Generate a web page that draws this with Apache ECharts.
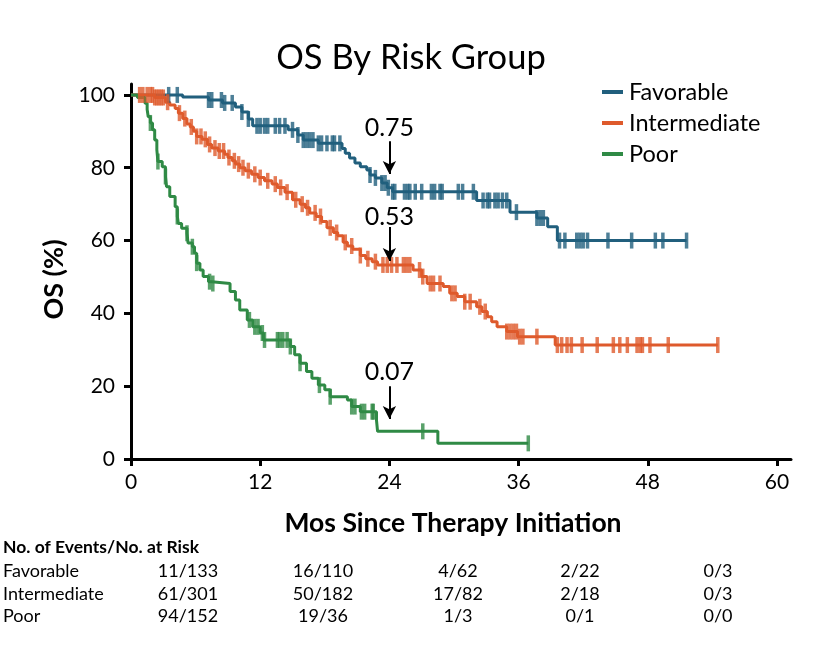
<!DOCTYPE html>
<html><head><meta charset="utf-8">
<script src="https://cdn.jsdelivr.net/npm/echarts@6/dist/echarts.min.js"></script>
<style>html,body{margin:0;padding:0;background:#fff}#c{width:822px;height:652px}</style>
</head><body><div id="c"></div>
<script>
// ---- Data ----
const xTicks = [0, 12, 24, 36, 48, 60];
const yTicks = [0, 20, 40, 60, 80, 100];
const groupNames = ['Favorable', 'Intermediate', 'Poor'];

// Kaplan-Meier step points (time in months, survival %)
const favT = [0, 4.8, 7.2, 8.5, 9.7, 10.3, 10.9, 11.3, 14.6, 15.5, 16.0, 17.4, 19.6, 19.9, 20.3, 20.8, 21.3, 21.9, 22.2, 22.7, 23.3, 23.8, 24.3, 32.1, 35.2, 37.7, 38.7, 39.6, 51.6];
const favV = [100, 99.4, 98.6, 97.8, 96.7, 95.3, 93.4, 91.5, 90.4, 89.0, 87.6, 86.7, 85.3, 84.0, 82.7, 81.3, 80.3, 79.4, 78.0, 77.2, 75.8, 74.5, 73.4, 71.0, 67.8, 66.2, 63.8, 60.0, 60.0];
const intT = [0, 2.2, 3.2, 3.6, 4.1, 4.4, 4.8, 5.2, 5.5, 5.8, 6.1, 6.6, 7.1, 7.5, 8.1, 8.7, 9.0, 9.4, 9.7, 10.1, 10.6, 11.2, 11.8, 12.4, 13.1, 13.6, 14.3, 15.0, 15.7, 16.2, 16.6, 17.2, 17.7, 18.2, 18.8, 19.2, 19.7, 20.1, 20.6, 21.3, 21.8, 22.4, 22.9, 26.2, 27.0, 27.5, 29.0, 29.6, 30.3, 31.0, 32.1, 32.6, 33.1, 33.5, 34.0, 34.9, 35.9, 39.4, 54.5];
const intV = [100, 99.3, 98, 97.2, 96.3, 95, 93.5, 92, 91.2, 90, 88.6, 87.8, 86.4, 85.4, 84.6, 83.7, 82.8, 81.9, 81, 80, 79.2, 78.2, 77.3, 76.4, 75.5, 74.6, 73.3, 71.2, 70, 69, 67.6, 66.6, 65.2, 63.5, 62.2, 61.3, 59.5, 58.5, 57.6, 55.9, 55, 54.2, 53.3, 51.9, 50.1, 48.2, 47.4, 45.5, 44.6, 43.2, 41.8, 40.5, 39.1, 37.7, 36.3, 35, 33.6, 31.3, 31.3];
const poorT = [0, 0.6, 1.3, 1.5, 1.6, 1.8, 2.0, 2.2, 2.4, 2.5, 2.9, 3.2, 3.3, 3.6, 4.1, 4.3, 4.4, 4.7, 5.2, 5.3, 5.7, 5.9, 6.1, 6.4, 6.7, 7.2, 7.5, 9.2, 9.7, 10.1, 10.8, 11.3, 12.0, 12.3, 14.8, 15.2, 15.7, 16.3, 16.8, 17.4, 18.0, 18.5, 20.1, 20.5, 21.3, 22.8, 22.9, 28.5, 36.9];
const poorV = [100, 99.3, 97.7, 96, 94, 92.3, 90.4, 87.6, 84.9, 81.7, 80.3, 77.6, 74.8, 72.1, 69.3, 66.6, 64.7, 63.4, 62, 59.3, 58.3, 56.5, 53.8, 51.9, 50.1, 48.7, 48.2, 46, 43.7, 40.9, 38.2, 36.3, 34.6, 32.7, 30.9, 28.6, 26.3, 24, 22.2, 20.3, 19, 17.1, 16.2, 14.4, 13, 10.7, 7.6, 4.3, 4.3];

// Censoring times (months)
const favCens = [3.5, 4.3, 7.2, 7.5, 8.4, 8.7, 9.4, 10.3, 10.9, 11.7, 12.0, 12.4, 12.7, 13.4, 13.8, 14.3, 15.0, 15.5, 16.0, 16.3, 16.6, 16.9, 17.4, 17.7, 18.2, 18.7, 18.9, 19.4, 22.2, 22.7, 23.3, 23.6, 23.9, 24.3, 24.5, 25.4, 25.7, 25.9, 26.4, 27.0, 27.9, 28.2, 28.7, 28.9, 30.4, 30.8, 31.8, 32.7, 33.1, 33.3, 33.8, 34.1, 34.5, 34.9, 35.8, 37.7, 38.0, 38.3, 39.8, 40.3, 41.4, 41.7, 42.0, 42.4, 44.3, 46.5, 48.7, 49.4, 51.6];
const intCens = [0.8, 1.1, 1.5, 1.8, 2.0, 2.2, 2.4, 2.6, 2.8, 3.0, 3.4, 4.5, 5.0, 5.6, 6.1, 6.5, 6.9, 7.3, 7.8, 8.2, 8.6, 9.1, 9.6, 10.0, 10.4, 10.9, 11.5, 12.0, 12.7, 13.4, 13.9, 14.5, 15.3, 15.9, 16.4, 17.1, 17.6, 18.5, 19.1, 19.9, 20.5, 21.3, 22.0, 22.7, 23.4, 23.8, 24.2, 24.7, 25.3, 25.6, 25.9, 26.8, 27.1, 27.8, 28.1, 28.7, 29.8, 30.1, 31.0, 31.5, 32.4, 32.9, 34.9, 35.2, 35.5, 35.8, 36.1, 36.4, 37.7, 39.6, 40.0, 40.5, 40.9, 41.9, 43.3, 44.8, 45.4, 46.1, 47.0, 47.3, 47.5, 48.2, 49.9, 54.5];
const poorCens = [1.8, 2.5, 3.2, 4.3, 5.2, 5.7, 6.1, 7.3, 7.6, 11.0, 11.5, 11.8, 12.2, 12.4, 13.6, 13.8, 14.1, 14.5, 14.8, 15.7, 17.5, 18.5, 20.5, 20.8, 21.4, 21.7, 22.4, 22.5, 27.1, 36.9];

// Annotations at 24 months
const annTime = [24, 24, 24];
const annText = ['0.75', '0.53', '0.07'];
const annLabelY = [90.9, 66.5, 23.9];
const annArrowFrom = [87.3, 63.7, 20.0];
const annArrowTo = [78.3, 54.4, 11.0];

// Risk table
const riskHeader = 'No. of Events/No. at Risk';
const riskFav = ['11/133', '16/110', '4/62', '2/22', '0/3'];
const riskInt = ['61/301', '50/182', '17/82', '2/18', '0/3'];
const riskPoor = ['94/152', '19/36', '1/3', '0/1', '0/0'];

// ---- Layout / style ----
const colors = ['#215f7d', '#de5a2c', '#2f8a45'];
const FONT = 'Lato, "Open Sans", sans-serif';
const colX = [188, 323, 458, 580, 718];
const rowY = [571, 594, 616];

function valueAt(T, V, t) {
  let v = V[0];
  for (let i = 0; i < T.length; i++) { if (T[i] <= t + 1e-9) v = V[i]; else break; }
  return v;
}
function stepData(T, V) { return T.map((t, i) => [t, V[i]]); }
function censData(T, V, C) { return C.map(t => [t, valueAt(T, V, t)]); }

const curves = [[favT, favV, favCens], [intT, intV, intCens], [poorT, poorV, poorCens]];
const series = [];
curves.forEach((c, i) => {
  series.push({
    type: 'line', name: groupNames[i], data: stepData(c[0], c[1]), step: 'end',
    showSymbol: false, symbol: 'none', silent: true, z: 2,
    lineStyle: { width: 3, color: colors[i] }, itemStyle: { color: colors[i] }
  });
});
curves.forEach((c, i) => {
  series.push({
    type: 'scatter', name: groupNames[i] + ' censored', data: censData(c[0], c[1], c[2]),
    symbol: 'rect', symbolSize: [3.5, 16], silent: true, z: 3,
    itemStyle: { color: colors[i] }
  });
});
series.push({
  type: 'scatter', name: 'annotations', silent: true, z: 5,
  data: annText.map((s, i) => [annTime[i], annLabelY[i], s]),
  symbol: 'circle', symbolSize: 1, itemStyle: { color: '#fff', opacity: 0 },
  label: {
    show: true, position: 'inside', formatter: p => p.value[2], fontFamily: FONT, fontSize: 25,
    color: '#000', textBorderWidth: 0, textBorderColor: 'transparent', opacity: 1
  },
  markLine: {
    silent: true, symbol: ['none', 'arrow'], symbolSize: [10, 13], animation: false,
    lineStyle: { color: '#000', width: 2, type: 'solid' }, label: { show: false },
    data: annText.map((s, i) => [{ coord: [annTime[i], annArrowFrom[i]] }, { coord: [annTime[i], annArrowTo[i]] }])
  }
});

const graphic = [];
graphic.push({ type: 'text', x: 3, y: 547, style: { text: riskHeader, font: 'bold 17.5px ' + FONT, fill: '#000', align: 'left', verticalAlign: 'middle' } });
[riskFav, riskInt, riskPoor].forEach((row, r) => {
  graphic.push({ type: 'text', x: 3, y: rowY[r], style: { text: groupNames[r], font: '18px ' + FONT, fill: '#000', align: 'left', verticalAlign: 'middle' } });
  row.forEach((s, k) => {
    graphic.push({ type: 'text', x: colX[k], y: rowY[r], style: { text: s, font: '18px ' + FONT, fill: '#000', align: 'center', verticalAlign: 'middle' } });
  });
});

const chart = echarts.init(document.getElementById('c'), null, { renderer: 'canvas' });
chart.setOption({
  animation: false,
  backgroundColor: '#fff',
  title: { text: 'OS By Risk Group', left: 'center', top: 35, textStyle: { fontFamily: FONT, fontSize: 34.5, fontWeight: 'normal', color: '#000' } },
  legend: {
    data: groupNames, orient: 'vertical', left: 597, top: 75, icon: 'rect', itemWidth: 21, itemHeight: 4, itemGap: 7,
    selectedMode: false, textStyle: { fontFamily: FONT, fontSize: 23.5, color: '#000', padding: [0, 0, 0, 1] }
  },
  grid: { left: 131, right: 31, top: 84, bottom: 193, containLabel: false },
  xAxis: {
    type: 'value', min: 0, max: 61.3, splitLine: { show: false },
    name: 'Mos Since Therapy Initiation', nameLocation: 'middle', nameGap: 51,
    nameTextStyle: { fontFamily: FONT, fontSize: 26.5, fontWeight: 'bold', color: '#000', padding: [0, 16, 0, 0] },
    axisLine: { lineStyle: { color: '#000', width: 3 } },
    axisTick: { show: true, length: 7, lineStyle: { color: '#000', width: 3 }, customValues: xTicks },
    axisLabel: { fontFamily: FONT, fontSize: 21, color: '#000', margin: 13, customValues: xTicks }
  },
  yAxis: {
    type: 'value', min: 0, max: 103, splitLine: { show: false },
    name: 'OS (%)', nameLocation: 'middle', nameGap: 63, nameRotate: 90,
    nameTextStyle: { fontFamily: FONT, fontSize: 27, fontWeight: 'bold', color: '#000', padding: [0, 16, 0, 0] },
    axisLine: { show: true, lineStyle: { color: '#000', width: 3 } },
    axisTick: { show: true, length: 7, lineStyle: { color: '#000', width: 3 }, customValues: yTicks },
    axisLabel: { fontFamily: FONT, fontSize: 21, color: '#000', margin: 16, customValues: yTicks }
  },
  series: series,
  graphic: graphic
});
</script>
</body></html>
